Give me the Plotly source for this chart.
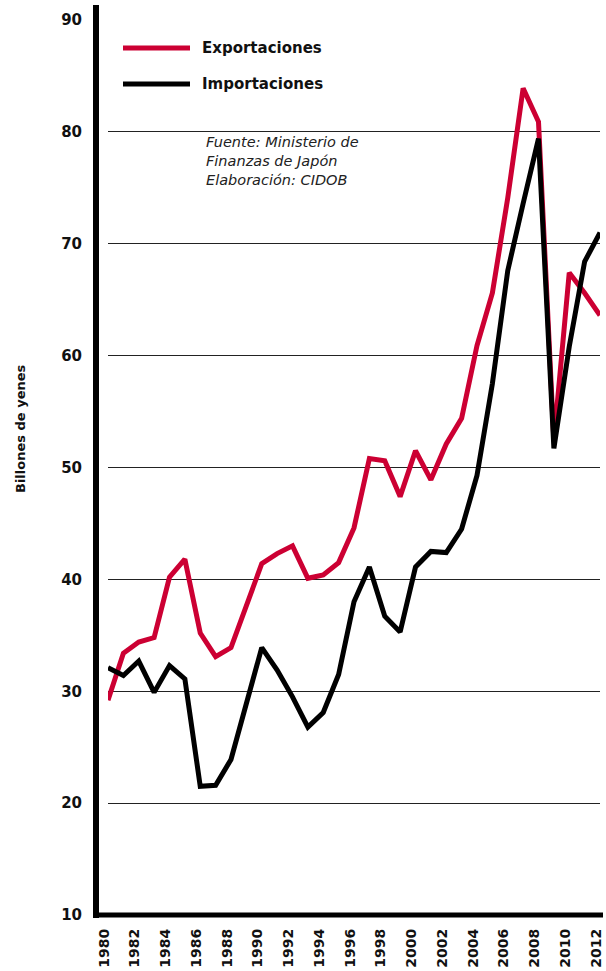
import plotly.graph_objects as go

years = list(range(1980, 2013))
exportaciones = [29.2, 33.4, 34.4, 34.8, 40.2, 41.8, 35.2, 33.1, 33.9, 37.6,
                 41.4, 42.3, 43.0, 40.1, 40.4, 41.5, 44.6, 50.8, 50.6, 47.4,
                 51.5, 48.9, 52.1, 54.4, 60.9, 65.6, 74.1, 83.9, 80.9, 52.4,
                 67.4, 65.6, 63.6]
importaciones = [32.1, 31.4, 32.7, 29.9, 32.3, 31.1, 21.5, 21.6, 23.9, 28.9,
                 33.9, 31.9, 29.5, 26.8, 28.1, 31.5, 38.0, 41.1, 36.7, 35.3,
                 41.1, 42.5, 42.4, 44.5, 49.3, 57.5, 67.6, 73.6, 79.4, 51.7,
                 60.8, 68.4, 71.0]
xtick_vals = list(range(1980, 2013, 2))
ytick_vals = [10, 20, 30, 40, 50, 60, 70, 80, 90]
series_names = ["Exportaciones", "Importaciones"]
source_text = "Fuente: Ministerio de<br>Finanzas de Japón<br>Elaboración: CIDOB"
ytitle = "Billones de yenes"

RED = "#cc0033"
BLACK = "#000000"
W, H = 606, 971
ML, MR, MT, MB = 108, 6, 20, 56
PW, PH = W - ML - MR, H - MT - MB


def px(x):
    return (x - ML) / PW


def py(y):
    return 1 - (y - MT) / PH


fig = go.Figure()
fig.add_trace(go.Scatter(x=years, y=exportaciones, mode="lines", name=series_names[0],
                         line=dict(color=RED, width=5), showlegend=False))
fig.add_trace(go.Scatter(x=years, y=importaciones, mode="lines", name=series_names[1],
                         line=dict(color=BLACK, width=5), showlegend=False))

shapes = [
    dict(type="line", xref="paper", yref="paper", x0=px(96), x1=px(96), y0=py(5), y1=py(918),
         line=dict(color="black", width=6), layer="above"),
    dict(type="line", xref="paper", yref="paper", x0=px(93), x1=px(603), y0=py(915), y1=py(915),
         line=dict(color="black", width=5), layer="above"),
    dict(type="rect", xref="paper", yref="paper", x0=px(197), x1=px(419), y0=py(124), y1=py(195),
         fillcolor="white", line=dict(width=0), layer="between"),
    dict(type="line", xref="paper", yref="paper", x0=px(123), x1=px(190), y0=py(48), y1=py(48),
         line=dict(color=RED, width=5), layer="above"),
    dict(type="line", xref="paper", yref="paper", x0=px(123), x1=px(190), y0=py(84), y1=py(84),
         line=dict(color=BLACK, width=5), layer="above"),
]

annotations = [
    dict(xref="paper", yref="paper", x=px(200), y=py(48), xanchor="left", yanchor="middle",
         text=series_names[0], showarrow=False,
         font=dict(family="DejaVu Sans", size=15, color="#111", weight="bold")),
    dict(xref="paper", yref="paper", x=px(200), y=py(84), xanchor="left", yanchor="middle",
         text=series_names[1], showarrow=False,
         font=dict(family="DejaVu Sans", size=15, color="#111", weight="bold")),
    dict(xref="paper", yref="paper", x=px(204), y=py(132), xanchor="left", yanchor="top",
         text=source_text, showarrow=False, align="left",
         font=dict(family="DejaVu Sans", size=14.5, color="#222", style="italic")),
    dict(xref="paper", yref="paper", x=px(20), y=py(429), xanchor="center", yanchor="middle",
         text=ytitle, showarrow=False, textangle=-90,
         font=dict(family="DejaVu Sans", size=13, color="#111", weight="bold")),
]

fig.update_layout(
    width=W, height=H,
    margin=dict(l=ML, r=MR, t=MT, b=MB, pad=0, autoexpand=False),
    paper_bgcolor="white", plot_bgcolor="white",
    shapes=shapes, annotations=annotations,
    showlegend=False,
    xaxis=dict(range=[1980, 2012], tickvals=xtick_vals, ticktext=[str(v) for v in xtick_vals],
               tickangle=-90, showgrid=False, zeroline=False, showline=False, automargin=False,
               ticks="", ticklabelstandoff=10, ticklabelshift=-4, ticklabeloverflow="allow",
               tickfont=dict(family="DejaVu Sans", size=14, color="#111", weight="bold")),
    yaxis=dict(range=[10, 90], tickvals=ytick_vals, showgrid=True, gridcolor="#222", gridwidth=1,
               zeroline=False, showline=False, ticks="", ticklabelstandoff=25, automargin=False,
               tickfont=dict(family="DejaVu Sans", size=15, color="#111", weight="bold")),
)

fig.write_html("out.html", config={"displayModeBar": False},
               post_script="document.body.style.margin='0';document.body.style.overflow='hidden';")
